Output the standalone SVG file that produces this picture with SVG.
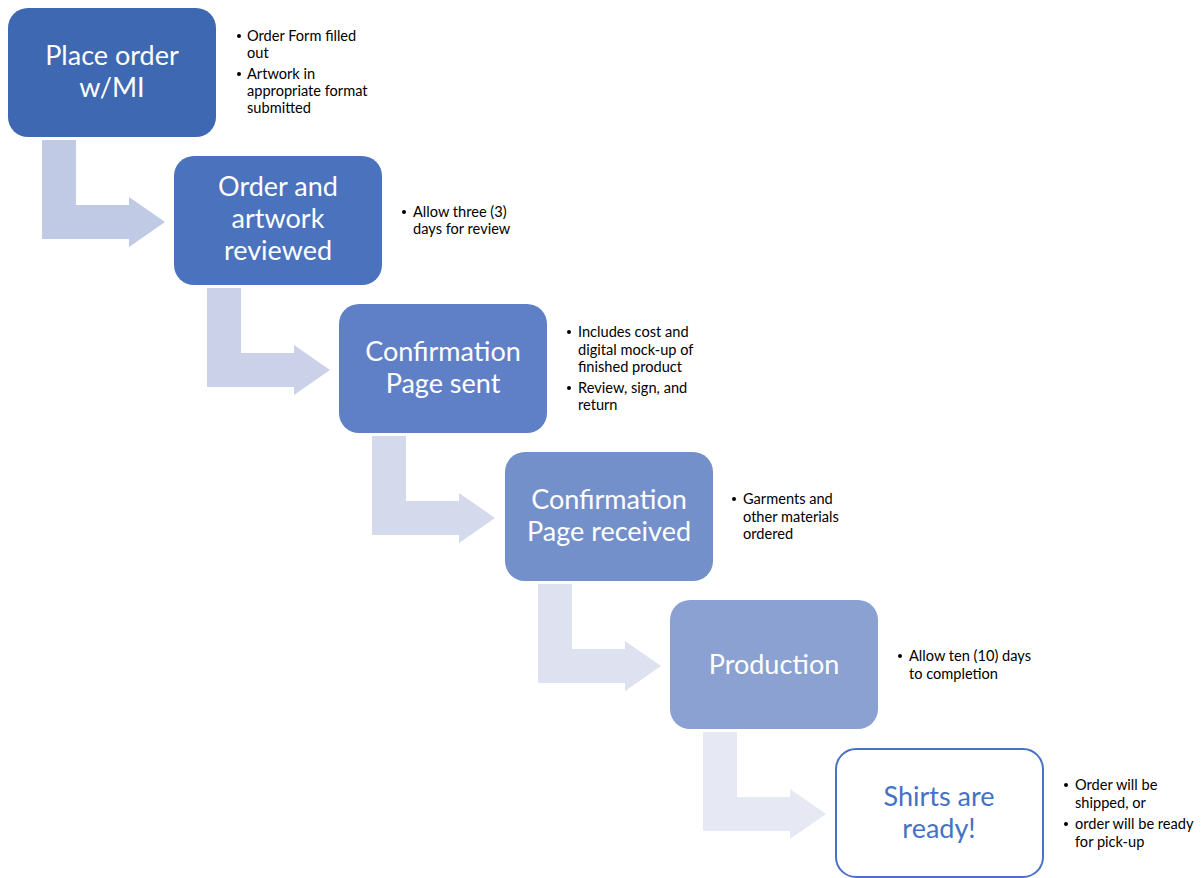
<svg xmlns="http://www.w3.org/2000/svg" width="1203" height="878" viewBox="0 0 1203 878">
<style>
.bt{font-family:Lato,"Liberation Sans",sans-serif;font-size:27px;fill:#ffffff;text-anchor:middle}
.lt{font-family:Lato,"Liberation Sans",sans-serif;font-size:14.6px;fill:#000000}
.dot{fill:#000000}
</style>
<rect width="1203" height="878" fill="#ffffff"/>
<g id="connectors">
<path d="M42,140 H76 V205 H129 V197 L165,222 L129,247 V239 H42 Z" fill="#c1cae4"/>
<path d="M207,288 H241 V353 H294 V345 L330,370 L294,395 V387 H207 Z" fill="#cbd1e8"/>
<path d="M372,436 H406 V501 H459 V493 L495,518 L459,543 V535 H372 Z" fill="#d4d9ec"/>
<path d="M538,584 H572 V649 H625 V641 L661,666 L625,691 V683 H538 Z" fill="#dde1f0"/>
<path d="M703,732 H737 V797 H790 V789 L826,814 L790,839 V831 H703 Z" fill="#e6e9f4"/>
</g>
<g id="n1">
<rect x="8" y="8" width="208" height="129" rx="20" fill="#3e68b2"/>
<text class="bt" x="112" y="65">Place order</text>
<text class="bt" x="112" y="97">w/MI</text>
<circle class="dot" cx="239" cy="36" r="2"/><circle class="dot" cx="239" cy="74" r="2"/>
<text class="lt" x="247" y="41">Order Form filled</text>
<text class="lt" x="247" y="58">out</text>
<text class="lt" x="247" y="79">Artwork in</text>
<text class="lt" x="247" y="96">appropriate format</text>
<text class="lt" x="247" y="113">submitted</text>
</g>
<g id="n2">
<rect x="174" y="156" width="208" height="129" rx="20" fill="#4a72bd"/>
<text class="bt" x="278" y="196">Order and</text>
<text class="bt" x="278" y="228">artwork</text>
<text class="bt" x="278" y="260">reviewed</text>
<circle class="dot" cx="404" cy="212" r="2"/>
<text class="lt" x="413" y="217">Allow three (3)</text>
<text class="lt" x="413" y="234">days for review</text>
</g>
<g id="n3">
<rect x="339" y="304" width="208" height="129" rx="20" fill="#5f80c6"/>
<text class="bt" x="443" y="361">Confirmation</text>
<text class="bt" x="443" y="393">Page sent</text>
<circle class="dot" cx="569" cy="332" r="2"/><circle class="dot" cx="569" cy="388" r="2"/>
<text class="lt" x="578" y="337">Includes cost and</text>
<text class="lt" x="578" y="355">digital mock-up of</text>
<text class="lt" x="578" y="372">finished product</text>
<text class="lt" x="578" y="393">Review, sign, and</text>
<text class="lt" x="578" y="410">return</text>
</g>
<g id="n4">
<rect x="505" y="452" width="208" height="129" rx="20" fill="#7490ca"/>
<text class="bt" x="609" y="509">Confirmation</text>
<text class="bt" x="609" y="541">Page received</text>
<circle class="dot" cx="734" cy="499" r="2"/>
<text class="lt" x="743" y="504">Garments and</text>
<text class="lt" x="743" y="522">other materials</text>
<text class="lt" x="743" y="539">ordered</text>
</g>
<g id="n5">
<rect x="670" y="600" width="208" height="129" rx="20" fill="#8aa1d2"/>
<text class="bt" x="774" y="674">Production</text>
<circle class="dot" cx="900" cy="656" r="2"/>
<text class="lt" x="909" y="661">Allow ten (10) days</text>
<text class="lt" x="909" y="679">to completion</text>
</g>
<g id="n6">
<rect x="836" y="749" width="207" height="128" rx="20" fill="#ffffff" stroke="#4a72c4" stroke-width="2"/>
<text class="bt" x="939" y="806" style="fill:#4472c4">Shirts are</text>
<text class="bt" x="939" y="838" style="fill:#4472c4">ready!</text>
<circle class="dot" cx="1066" cy="785" r="2"/><circle class="dot" cx="1066" cy="824" r="2"/>
<text class="lt" x="1075" y="790">Order will be</text>
<text class="lt" x="1075" y="808">shipped, or</text>
<text class="lt" x="1075" y="829">order will be ready</text>
<text class="lt" x="1075" y="847">for pick-up</text>
</g>
</svg>
